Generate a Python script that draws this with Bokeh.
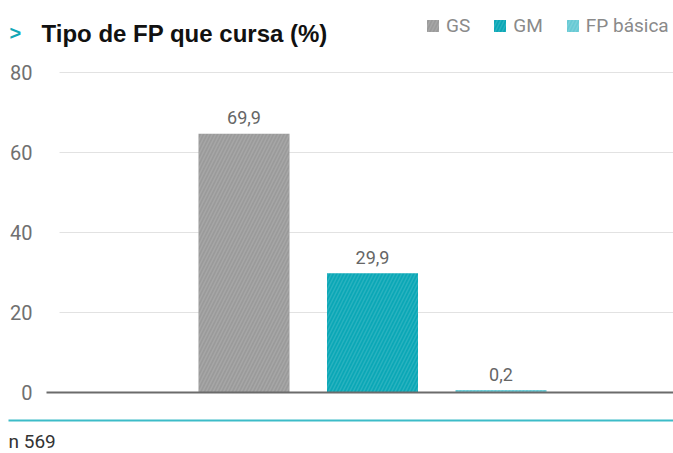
import numpy as np
from bokeh.plotting import figure
from bokeh.models import Range1d, ColumnDataSource, Legend, LegendItem
from bokeh.core.properties import value
from bokeh.embed import file_html
from bokeh.resources import INLINE

# ---- data ----
categories = ["GS", "GM", "FP básica"]
bar_values = [64.7, 29.8, 0.6]          # bar heights as drawn
value_labels = ["69,9", "29,9", "0,2"]   # printed labels
colors = ["#9a9a9a", "#0aa7b6", "#67c9d4"]
y_ticks = [0, 20, 40, 60, 80]
title_text = "Tipo de FP que cursa (%)"
note_text = "n 569"

# ---- layout helpers (pixel -> data) ----
W, H = 673, 453
PX_X = 128.5
PX_Y = 4.0
x_start = 1 - 243.5 / PX_X
x_end = x_start + W / PX_X
y_end = 392 / PX_Y
y_start = y_end - H / PX_Y

def dx(px):
    return x_start + px / PX_X

def dy(py):
    return y_end - py / PX_Y

FONT = "Roboto"

p = figure(width=W, height=H, output_backend="svg", toolbar_location=None,
           x_range=Range1d(x_start, x_end), y_range=Range1d(y_start, y_end),
           min_border=0, outline_line_color=None, background_fill_color="white")
p.axis.visible = False
p.grid.visible = False

# gridlines
grid_y = [t for t in y_ticks if t > 0]
p.segment(x0=[dx(59)] * len(grid_y), x1=[x_end] * len(grid_y), y0=grid_y, y1=grid_y,
          line_color="#e2e2e2", line_width=1)

# tick labels
p.text(x=[dx(32)] * len(y_ticks), y=y_ticks, text=[str(t) for t in y_ticks],
       text_align="right", text_baseline="middle",
       text_font=value(FONT), text_font_size="20px", text_color="#707070")

# bars
xpos = np.arange(1, len(categories) + 1)
src = ColumnDataSource(dict(x=xpos, top=bar_values, color=colors, cat=categories,
                            lab=value_labels,
                            ly=[v + 16 / PX_Y for v in bar_values]))
r = p.vbar(x="x", top="top", bottom=0, width=91 / PX_X, source=src,
           fill_color="color", line_color=None,
           hatch_pattern="/", hatch_color="white", hatch_alpha=0.12,
           hatch_scale=7, hatch_weight=1.5)

# value labels
p.text(x="x", y="ly", text="lab", source=src, text_align="center",
       text_baseline="alphabetic", text_font=value(FONT),
       text_font_size="18px", text_color="#666666")

# baseline
p.segment(x0=[dx(46)], x1=[x_end], y0=[0], y1=[0], line_color="#6b6b6b", line_width=2)

# cyan bottom rule
p.segment(x0=[dx(8)], x1=[x_end], y0=[dy(420)], y1=[dy(420)],
          line_color="#3cbcc8", line_width=2)

# note
p.text(x=[dx(8)], y=[dy(441)], text=[note_text], text_align="left",
       text_baseline="middle", text_font=value(FONT),
       text_font_size="19px", text_color="#333333")

# title
p.text(x=[dx(9)], y=[dy(32)], text=[">"], text_align="left",
       text_baseline="alphabetic", text_font=value("Liberation Sans"),
       text_font_style="bold", text_font_size="20px", text_color="#12a7b6")
p.text(x=[dx(41)], y=[dy(33)], text=[title_text], text_align="left",
       text_baseline="alphabetic", text_font=value("Liberation Sans"),
       text_font_style="bold", text_font_size="24px", text_color="#111111")

# legend
legend = Legend(items=[LegendItem(label=c, renderers=[r], index=i)
                       for i, c in enumerate(categories)],
                orientation="horizontal", location=(425, 416),
                label_text_font=FONT, label_text_font_size="19px",
                label_text_color="#8a8a8a", glyph_width=15, glyph_height=15,
                label_standoff=6, spacing=22, padding=0, margin=0,
                border_line_color=None, background_fill_alpha=0)
p.add_layout(legend)

open("out.html", "w").write(file_html(p, INLINE))
